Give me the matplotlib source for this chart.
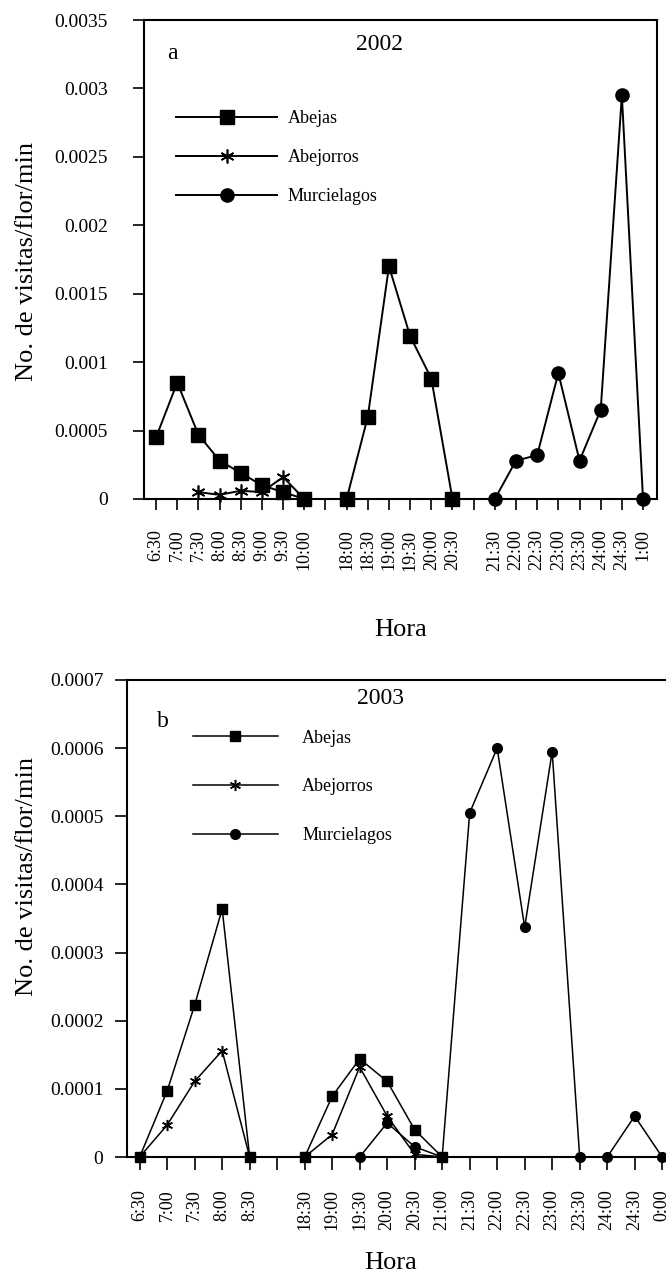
import numpy as np
import matplotlib
matplotlib.use('Agg')
import matplotlib.pyplot as plt

plt.rcParams['font.family'] = ['Liberation Serif', 'DejaVu Serif']

nan = np.nan

# 2002 data
horas_2002 = ['6:30', '7:00', '7:30', '8:00', '8:30', '9:00', '9:30', '10:00', '',
              '18:00', '18:30', '19:00', '19:30', '20:00', '20:30', '',
              '21:30', '22:00', '22:30', '23:00', '23:30', '24:00', '24:30', '1:00']
abejas_2002 = [0.00045, 0.00085, 0.00047, 0.00028, 0.00019, 0.0001, 0.00005, 0, nan,
               0, 0.0006, 0.0017, 0.00119, 0.00088, 0, nan,
               nan, nan, nan, nan, nan, nan, nan, nan]
abejorros_2002 = [nan, nan, 0.00005, 0.00003, 0.00006, 0.00005, 0.00016, 0, nan,
                  nan, nan, nan, nan, nan, nan, nan,
                  nan, nan, nan, nan, nan, nan, nan, nan]
murcielagos_2002 = [nan, nan, nan, nan, nan, nan, nan, nan, nan,
                    nan, nan, nan, nan, nan, nan, nan,
                    0, 0.00028, 0.00032, 0.00092, 0.00028, 0.00065, 0.00295, 0]

# 2003 data
horas_2003 = ['6:30', '7:00', '7:30', '8:00', '8:30', '',
              '18:30', '19:00', '19:30', '20:00', '20:30', '21:00', '21:30',
              '22:00', '22:30', '23:00', '23:30', '24:00', '24:30', '0:00']
abejas_2003 = [0, 0.000097, 0.000223, 0.000364, 0, nan,
               0, 0.000089, 0.000144, 0.000111, 0.00004, 0, nan,
               nan, nan, nan, nan, nan, nan, nan]
abejorros_2003 = [0, 0.000047, 0.000111, 0.000156, 0, nan,
                  0, 0.000033, 0.000132, 0.00006, 0.000004, 0, nan,
                  nan, nan, nan, nan, nan, nan, nan]
murcielagos_2003 = [nan, nan, nan, nan, nan, nan,
                    nan, nan, 0, 0.00005, 0.000015, 0, 0.000505,
                    0.0006, 0.000337, 0.000595, 0, 0, 0.00006, 0]

asterisk = (6, 2, 0)

fig = plt.figure(figsize=(6.66, 12.83), dpi=100)

# --- panel a (2002)
ax1 = fig.add_axes([0.2162, 0.6111, 0.7703, 0.3733])
x1 = np.arange(len(horas_2002))
ax1.plot(x1, abejas_2002, color='k', lw=1.4, marker='s', ms=9.5, clip_on=False, label='Abejas')
ax1.plot(x1, abejorros_2002, color='k', lw=1.4, marker=asterisk, ms=10, mew=1.2, clip_on=False, label='Abejorros')
ax1.plot(x1, murcielagos_2002, color='k', lw=1.4, marker='o', ms=9.5, clip_on=False, label='Murcielagos')
ax1.set_xlim(-0.57, 23.66)
ax1.set_ylim(0, 0.0035)
ax1.set_xticks(x1)
ax1.set_xticklabels(horas_2002, rotation=90, fontsize=13)
yt1 = np.arange(0, 0.0036, 0.0005)
ax1.set_yticks(yt1)
ax1.set_yticklabels(['%g' % round(v, 4) for v in yt1], fontsize=14)
ax1.tick_params(axis='y', direction='out', length=8, width=1.2, pad=18)
ax1.tick_params(axis='x', direction='out', length=8, width=1.2, pad=14)
ax1.set_ylabel('No. de visitas/flor/min', fontsize=19)
ax1.yaxis.set_label_coords(-0.207, 0.495)
ax1.set_xlabel('Hora', fontsize=19)
ax1.xaxis.set_label_coords(0.5, -0.25)
ax1.text(0.055, 0.93, 'a', transform=ax1.transAxes, fontsize=17, ha='center', va='center')
ax1.text(0.46, 0.948, '2002', transform=ax1.transAxes, fontsize=17, ha='center', va='center')
ax1.legend(loc='upper left', bbox_to_anchor=(0.0624, 0.812), frameon=False, fontsize=13,
           handlelength=5.6, handletextpad=0.6, labelspacing=1.22, borderpad=0, borderaxespad=0)
for s in ax1.spines.values():
    s.set_linewidth(1.5)

# --- panel b (2003)
ax2 = fig.add_axes([0.1907, 0.0982, 0.8242, 0.3718])
x2 = np.arange(len(horas_2003))
ax2.plot(x2, abejas_2003, color='k', lw=1.1, marker='s', ms=7, clip_on=False, label='Abejas')
ax2.plot(x2, abejorros_2003, color='k', lw=1.1, marker=asterisk, ms=8, mew=1.1, clip_on=False, label='Abejorros')
ax2.plot(x2, murcielagos_2003, color='k', lw=1.1, marker='o', ms=7, clip_on=False, label='Murcielagos')
ax2.set_xlim(-0.46, 19.5)
ax2.set_ylim(0, 0.0007)
ax2.set_xticks(x2)
ax2.set_xticklabels(horas_2003, rotation=90, fontsize=13)
yt2 = np.arange(0, 0.00071, 0.0001)
ax2.set_yticks(yt2)
ax2.set_yticklabels(['%g' % round(v, 4) for v in yt2], fontsize=14)
ax2.tick_params(axis='y', direction='out', length=9, width=1.2, pad=8)
ax2.tick_params(axis='x', direction='out', length=9, width=1.2, pad=14)
ax2.set_ylabel('No. de visitas/flor/min', fontsize=19)
ax2.yaxis.set_label_coords(-0.162, 0.587)
ax2.set_xlabel('Hora', fontsize=19)
ax2.xaxis.set_label_coords(0.48, -0.2)
ax2.text(0.066, 0.912, 'b', transform=ax2.transAxes, fontsize=17, ha='center', va='center')
ax2.text(0.461, 0.962, '2003', transform=ax2.transAxes, fontsize=17, ha='center', va='center')
ax2.legend(loc='upper left', bbox_to_anchor=(0.120, 0.896), frameon=False, fontsize=13,
           handlelength=4.7, handletextpad=1.35, labelspacing=1.76, borderpad=0, borderaxespad=0)
for s in ax2.spines.values():
    s.set_linewidth(1.5)

fig.savefig('out.png', dpi=100)
